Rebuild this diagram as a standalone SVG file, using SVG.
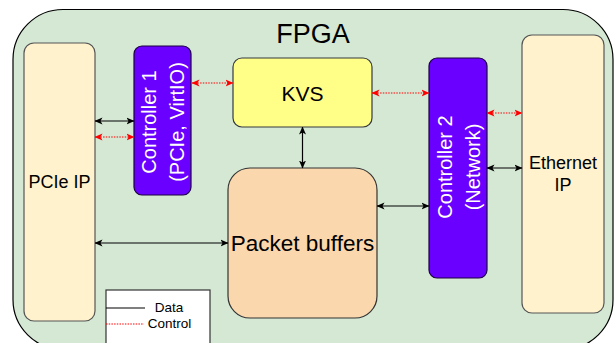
<svg xmlns="http://www.w3.org/2000/svg" width="616" height="343" viewBox="0 0 616 343">
<style>
  text { font-family: "Liberation Sans", Arial, sans-serif; text-anchor: middle; dominant-baseline: central; }
  .data { stroke: #000; stroke-width: 1.2; fill: none; marker-start: url(#ab); marker-end: url(#ab); }
  .ctrl { stroke: #ff0000; stroke-width: 1.2; stroke-dasharray: 1.5 1.2; fill: none; marker-start: url(#ar); marker-end: url(#ar); }
  .ctl { fill: #6a00ff; stroke: #1a0040; stroke-width: 1.2; }
  .ip { fill: #fff2cc; stroke: #555; stroke-width: 1.2; }
  .wt { fill: #fff; font-size: 20px; }
</style>
<defs>
  <marker id="ab" viewBox="0 0 8 8" refX="7.5" refY="4" markerWidth="8" markerHeight="8" markerUnits="userSpaceOnUse" orient="auto-start-reverse">
    <path d="M0,0.5 L8,4 L0,7.5 L2,4 z" fill="#000"/>
  </marker>
  <marker id="ar" viewBox="0 0 8 8" refX="7.5" refY="4" markerWidth="8" markerHeight="8" markerUnits="userSpaceOnUse" orient="auto-start-reverse">
    <path d="M0,0.5 L8,4 L0,7.5 L2,4 z" fill="#ff0000"/>
  </marker>
</defs>

<g id="fpga">
  <rect x="13" y="9.5" width="600" height="340" rx="50" ry="50" fill="#d5e8d4" stroke="#000" stroke-width="1.2"/>
  <text x="313" y="34" font-size="27">FPGA</text>
</g>

<g id="pcie-ip">
  <rect class="ip" x="24" y="43" width="71" height="278" rx="10"/>
  <text x="59.5" y="182" font-size="18">PCIe IP</text>
</g>

<g id="controller1">
  <rect class="ctl" x="134" y="46" width="57" height="149" rx="8"/>
  <g transform="translate(162.5,122) rotate(-90)">
    <text class="wt" x="0" y="-14">Controller 1</text>
    <text class="wt" x="0" y="14">(PCIe, VirtIO)</text>
  </g>
</g>

<g id="kvs">
  <rect x="233" y="58" width="139" height="69" rx="9" fill="#ffff88" stroke="#36393d" stroke-width="1.2"/>
  <text x="302.5" y="93" font-size="21">KVS</text>
</g>

<g id="packet-buffers">
  <rect x="228" y="168" width="149" height="150" rx="22" fill="#fad7ac" stroke="#333" stroke-width="1.2"/>
  <text x="302.5" y="243" font-size="22.5">Packet buffers</text>
</g>

<g id="controller2">
  <rect class="ctl" x="429" y="58" width="58" height="220" rx="8"/>
  <g transform="translate(458.5,167) rotate(-90)">
    <text class="wt" x="0" y="-14">Controller 2</text>
    <text class="wt" x="0" y="14">(Network)</text>
  </g>
</g>

<g id="ethernet-ip">
  <rect class="ip" x="522" y="35" width="82" height="278" rx="10"/>
  <text x="563" y="163" font-size="18">Ethernet</text>
  <text x="563" y="185" font-size="18">IP</text>
</g>

<g id="connectors">
  <line class="ctrl" x1="192" y1="83" x2="233" y2="83"/>
  <line class="data" x1="95" y1="121" x2="134" y2="121"/>
  <line class="ctrl" x1="95" y1="137" x2="134" y2="137"/>
  <line class="ctrl" x1="372" y1="93" x2="429" y2="93"/>
  <line class="ctrl" x1="487" y1="113" x2="522" y2="113"/>
  <line class="data" x1="487" y1="168" x2="522" y2="168"/>
  <line class="data" x1="302.5" y1="127" x2="302.5" y2="168"/>
  <line class="data" x1="377" y1="206" x2="429" y2="206"/>
  <line class="data" x1="95" y1="243" x2="228" y2="243"/>
</g>

<g id="legend">
  <rect x="106" y="290" width="104" height="70" fill="#fff" stroke="#333" stroke-width="1.2"/>
  <line x1="106" y1="308" x2="145" y2="308" stroke="#000" stroke-width="1.2"/>
  <text x="169" y="307" font-size="13.5">Data</text>
  <line x1="106" y1="324" x2="144" y2="324" stroke="#ff0000" stroke-width="1.2" stroke-dasharray="1.5 1.2"/>
  <text x="169.5" y="323" font-size="13.5">Control</text>
</g>
</svg>
